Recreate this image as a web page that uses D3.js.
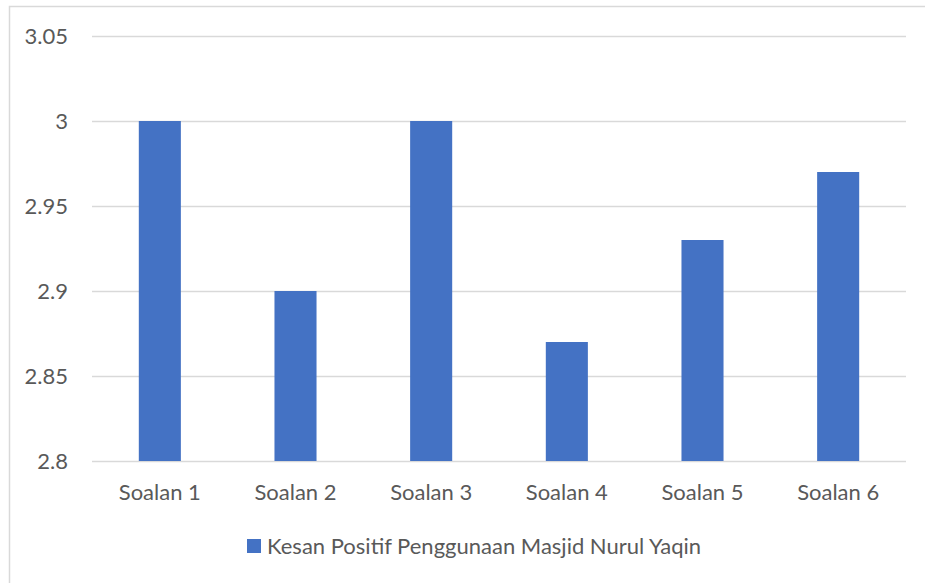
<!DOCTYPE html>
<html lang="en">
<head>
    <meta charset="UTF-8">
    <title>Kesan Positif Penggunaan Masjid Nurul Yaqin</title>
    <style>
        body { margin: 0; background: #fff; }
        text {
            font-family: Lato, "Open Sans", sans-serif;
            fill: #595959;
        }
    </style>
    <script src="https://d3js.org/d3.v7.min.js"></script>
</head>
<body>
<svg></svg>
<script>
    const categories = ["Soalan 1", "Soalan 2", "Soalan 3", "Soalan 4", "Soalan 5", "Soalan 6"];
    const values = [3, 2.9, 3, 2.87, 2.93, 2.97];
    const yTicks = [2.8, 2.85, 2.9, 2.95, 3, 3.05];
    const seriesName = "Kesan Positif Penggunaan Masjid Nurul Yaqin";

    const width = 925, height = 583;
    const margin = { top: 36, right: 19, bottom: 122, left: 92 };
    const fontSize = 22;

    const svg = d3.select("svg")
        .attr("width", width)
        .attr("height", height);

    // chart frame
    svg.append("rect")
        .attr("x", 9.5).attr("y", 6.5)
        .attr("width", 930).attr("height", 600)
        .attr("fill", "#fff")
        .attr("stroke", "#d9d9d9")
        .attr("stroke-width", 1.5);

    const x = d3.scaleBand()
        .domain(categories)
        .range([margin.left, width - margin.right])
        .paddingInner(0.69)
        .paddingOuter(0.345);

    const y = d3.scaleLinear()
        .domain([2.8, 3.05])
        .range([height - margin.bottom, margin.top]);

    // gridlines
    svg.append("g")
        .selectAll("line")
        .data(yTicks)
        .enter().append("line")
        .attr("x1", margin.left)
        .attr("x2", width - margin.right)
        .attr("y1", d => Math.round(y(d)) + 0.5)
        .attr("y2", d => Math.round(y(d)) + 0.5)
        .attr("stroke", "#d9d9d9")
        .attr("stroke-width", 1.5);

    // y labels
    svg.append("g")
        .selectAll("text")
        .data(yTicks)
        .enter().append("text")
        .attr("x", 68)
        .attr("y", d => y(d))
        .attr("dy", "0.35em")
        .attr("text-anchor", "end")
        .attr("font-size", fontSize)
        .text(d => d);

    // bars
    svg.append("g")
        .selectAll("rect")
        .data(values)
        .enter().append("rect")
        .attr("x", (d, i) => x(categories[i]))
        .attr("width", x.bandwidth())
        .attr("y", d => y(d))
        .attr("height", d => y(2.8) - y(d))
        .attr("fill", "#4472C4");

    // x labels
    svg.append("g")
        .selectAll("text")
        .data(categories)
        .enter().append("text")
        .attr("x", d => x(d) + x.bandwidth() / 2)
        .attr("y", 500)
        .attr("text-anchor", "middle")
        .attr("font-size", fontSize)
        .text(d => d);

    // legend
    const legend = svg.append("g");
    legend.append("rect")
        .attr("x", 247).attr("y", 539)
        .attr("width", 14).attr("height", 14)
        .attr("fill", "#4472C4");
    legend.append("text")
        .attr("x", 267)
        .attr("y", 554)
        .attr("font-size", fontSize)
        .text(seriesName);
</script>
</body>
</html>
